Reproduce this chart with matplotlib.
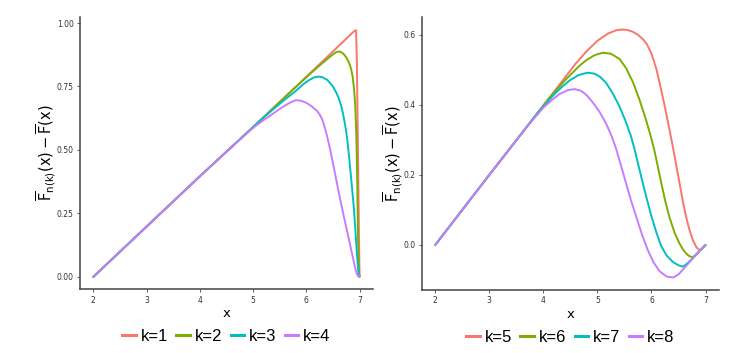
import matplotlib
matplotlib.use("Agg")
import matplotlib.pyplot as plt
from matplotlib.lines import Line2D

plt.rcParams["mathtext.default"] = "regular"

# colours as in ggplot's default hue palette
COLORS = ["#F8766D", "#7CAE00", "#00BFC4", "#C77CFF"]

# ---- left panel, k = 1..4 ----
x_k1 = [2, 3, 4, 5, 6, 6.5, 6.8, 6.9, 6.935, 6.95, 6.97, 6.99, 7.0]
y_k1 = [0, 0.198, 0.396, 0.59, 0.788, 0.888, 0.948, 0.968, 0.972, 0.85, 0.5, 0.15, 0.0]

x_k2 = [2, 3, 4, 5, 5.9, 6.1, 6.3, 6.45, 6.55, 6.6, 6.65, 6.7, 6.75, 6.8,
        6.84, 6.87, 6.9, 6.92, 6.94, 6.955, 6.965, 6.975, 6.985, 7.0]
y_k2 = [0, 0.198, 0.396, 0.59, 0.767, 0.805, 0.842, 0.868, 0.884, 0.888, 0.886,
        0.878, 0.865, 0.845, 0.82, 0.79, 0.735, 0.67, 0.56, 0.4, 0.25, 0.12,
        0.04, 0.0]

x_k3 = [2, 3, 4, 5, 5.2, 5.4, 5.6, 5.8, 5.95, 6.05, 6.15, 6.22, 6.3, 6.4, 6.5,
        6.56, 6.61, 6.66, 6.7, 6.74, 6.77, 6.8, 6.83, 6.86, 6.89, 6.92, 6.94,
        6.96, 6.98, 6.99, 7.0]
y_k3 = [0, 0.198, 0.396, 0.59, 0.628, 0.664, 0.699, 0.732, 0.76, 0.775, 0.786,
        0.789, 0.787, 0.775, 0.75, 0.727, 0.704, 0.67, 0.632, 0.585, 0.54, 0.48,
        0.415, 0.348, 0.28, 0.19, 0.125, 0.065, 0.015, 0.004, 0.003]

x_k4 = [2, 3, 4, 4.4, 4.56, 4.7, 4.93, 5.05, 5.18, 5.3, 5.49, 5.6, 5.7, 5.8,
        5.9, 6.0, 6.1, 6.2, 6.25, 6.3, 6.35, 6.4, 6.45, 6.5, 6.55, 6.6, 6.65,
        6.7, 6.75, 6.8, 6.85, 6.9, 6.93, 6.96, 6.98, 7.0]
y_k4 = [0, 0.198, 0.396, 0.473, 0.504, 0.531, 0.574, 0.595, 0.615, 0.632, 0.66,
        0.675, 0.687, 0.696, 0.694, 0.686, 0.672, 0.654, 0.64, 0.62, 0.586,
        0.546, 0.5, 0.449, 0.396, 0.343, 0.292, 0.243, 0.195, 0.148, 0.1,
        0.052, 0.025, 0.006, 0.001, 0.004]

# ---- right panel, k = 5..8 ----
x_k5 = [2, 3, 4, 4.3, 4.6, 4.8, 5.0, 5.2, 5.35, 5.44, 5.55, 5.65, 5.75, 5.84,
        5.92, 6.0, 6.09, 6.18, 6.27, 6.35, 6.43, 6.52, 6.58, 6.64, 6.7, 6.765,
        6.83, 6.87, 6.9, 6.95, 7.0]
y_k5 = [0, 0.2, 0.398, 0.458, 0.518, 0.553, 0.583, 0.604, 0.613, 0.615, 0.614,
        0.609, 0.6, 0.588, 0.572, 0.546, 0.503, 0.443, 0.378, 0.316, 0.252, 0.176,
        0.125, 0.081, 0.045, 0.014, -0.006, -0.013, -0.014, -0.008, 0.0]

x_k6 = [2, 3, 4, 4.1, 4.4, 4.67, 4.8, 4.95, 5.10, 5.25, 5.41, 5.53, 5.66,
        5.78, 5.90, 5.98, 6.06, 6.12, 6.18, 6.26, 6.335, 6.43, 6.52, 6.58,
        6.64, 6.7, 6.765, 6.82, 6.9, 7.0]
y_k6 = [0, 0.2, 0.398, 0.418, 0.47, 0.512, 0.528, 0.542, 0.549, 0.546, 0.531,
        0.505, 0.464, 0.414, 0.357, 0.314, 0.266, 0.222, 0.178, 0.122, 0.078,
        0.034, 0.004, -0.012, -0.024, -0.032, -0.035, -0.028, -0.016, 0.0]

x_k7 = [2, 3, 3.9, 4.2, 4.35, 4.49, 4.65, 4.82, 4.95, 5.05, 5.16, 5.28, 5.41,
        5.52, 5.62, 5.69, 5.76, 5.84, 5.92, 6.0, 6.09, 6.18, 6.28, 6.40, 6.50,
        6.58, 6.66, 6.75, 6.87, 7.0]
y_k7 = [0, 0.2, 0.378, 0.43, 0.452, 0.47, 0.485, 0.492, 0.489, 0.48, 0.463,
        0.434, 0.395, 0.354, 0.311, 0.272, 0.227, 0.176, 0.128, 0.082, 0.036,
        -0.003, -0.03, -0.049, -0.058, -0.062, -0.053, -0.04, -0.02, 0.0]

x_k8 = [2, 3, 3.7, 3.85, 4.0, 4.15, 4.3, 4.45, 4.58, 4.7, 4.8, 4.915, 5.04,
        5.16, 5.26, 5.35, 5.44, 5.53, 5.62, 5.72, 5.82, 5.93, 6.04, 6.15, 6.28,
        6.40, 6.5, 6.6, 6.75, 6.88, 7.0]
y_k8 = [0, 0.2, 0.338, 0.365, 0.392, 0.413, 0.431, 0.442, 0.445, 0.44, 0.428,
        0.407, 0.38, 0.347, 0.312, 0.273, 0.225, 0.176, 0.128, 0.08, 0.032,
        -0.014, -0.05, -0.075, -0.09, -0.093, -0.084, -0.067, -0.041, -0.019, 0.0]

left_series = [(x_k1, y_k1), (x_k2, y_k2), (x_k3, y_k3), (x_k4, y_k4)]
right_series = [(x_k5, y_k5), (x_k6, y_k6), (x_k7, y_k7), (x_k8, y_k8)]
left_labels = ["k=1", "k=2", "k=3", "k=4"]
right_labels = ["k=5", "k=6", "k=7", "k=8"]

x_ticks = [2, 3, 4, 5, 6, 7]
left_yticks = [0.0, 0.25, 0.50, 0.75, 1.00]
left_yticklabels = ["0.00", "0.25", "0.50", "0.75", "1.00"]
right_yticks = [0.0, 0.2, 0.4, 0.6]
right_yticklabels = ["0.0", "0.2", "0.4", "0.6"]

YLABEL = r"$\overline{F}_{n(k)}(x)-\overline{F}(x)$"


def style_axes(ax, yticks, yticklabels, ylim):
    ax.set_xlim(1.75, 7.25)
    ax.set_ylim(*ylim)
    ax.set_xticks(x_ticks)
    ax.set_xticklabels([str(t) for t in x_ticks])
    ax.set_yticks(yticks)
    ax.set_yticklabels(yticklabels)
    for side in ["top", "right"]:
        ax.spines[side].set_visible(False)
    for side in ["left", "bottom"]:
        ax.spines[side].set_color("#444444")
        ax.spines[side].set_linewidth(1.1)
    ax.tick_params(length=2.5, width=0.6, color="#444444", labelsize=5.5,
                   labelcolor="#333333", pad=2)
    ax.set_xlabel("x", fontsize=9.5, labelpad=2)
    ax.set_ylabel(YLABEL, fontsize=10.5, labelpad=-1)


def draw_panel(ax, series, labels):
    for (xs, ys), col in zip(series, COLORS):
        ax.plot(xs, ys, color=col, lw=1.4, solid_capstyle="round",
                solid_joinstyle="round")
    handles = [Line2D([], [], color=c, lw=2.2) for c in COLORS]
    ax.legend(handles, labels, loc="center", bbox_to_anchor=(0.5, -0.172),
              ncol=4, frameon=False, handlelength=0.8, handletextpad=0.3,
              columnspacing=0.5, borderpad=0,
              prop={"family": "Liberation Sans", "size": 12})


fig = plt.figure(figsize=(7.49, 3.53), dpi=100)
ax1 = fig.add_axes([0.1068, 0.1805, 0.391, 0.7715])
ax2 = fig.add_axes([0.563, 0.178, 0.397, 0.774])

draw_panel(ax1, left_series, left_labels)
style_axes(ax1, left_yticks, left_yticklabels, (-0.049, 1.024))

draw_panel(ax2, right_series, right_labels)
style_axes(ax2, right_yticks, right_yticklabels, (-0.129, 0.651))

fig.savefig("out.png", dpi=100)
